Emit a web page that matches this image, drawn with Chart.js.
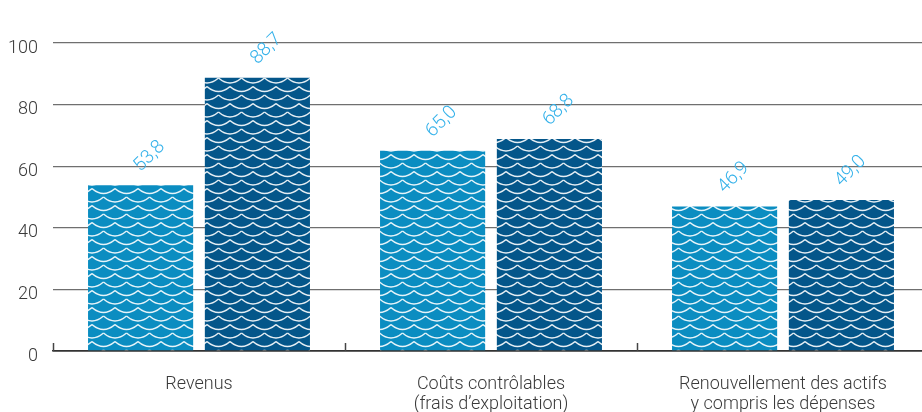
<!DOCTYPE html>
<html lang="fr">
<head>
<meta charset="utf-8">
<script src="https://cdn.jsdelivr.net/npm/chart.js@4/dist/chart.umd.min.js"></script>
<style>
  html, body { margin: 0; padding: 0; background: #fff; overflow: hidden; }
  #wrap { position: relative; width: 929px; height: 440px; }
</style>
</head>
<body>
<div id="wrap"><canvas id="chart"></canvas></div>
<script>
// Data
const categories = [
  ["Revenus"],
  ["Coûts contrôlables", "(frais d’exploitation)"],
  ["Renouvellement des actifs", "y compris les dépenses", "en immobilisations"]
];
const seriesPrev = [53.8, 65.0, 46.9];
const seriesCurr = [88.7, 68.8, 49.0];
const yTicks = [0, 20, 40, 60, 80, 100];

const FONT = "Roboto, 'Liberation Sans', sans-serif";

// wave / scale pattern fill for the bars
function scallop(base) {
  const w = 23, h = 17;
  const c = document.createElement("canvas");
  c.width = w; c.height = h;
  const g = c.getContext("2d");
  g.fillStyle = base;
  g.fillRect(0, 0, w, h);
  g.strokeStyle = "rgba(255,255,255,0.9)";
  g.lineWidth = 1.4;
  [[0, 1.5], [w / 2, 10]].forEach(function ([ox, oy]) {
    for (let x = ox - w; x < w + 1; x += w) {
      g.beginPath();
      g.moveTo(x, oy);
      g.quadraticCurveTo(x + w / 2, oy + 10, x + w, oy);
      g.stroke();
    }
  });
  return g.createPattern(c, "repeat");
}

// small upward ticks between categories on the baseline
const categoryTicks = {
  id: "categoryTicks",
  afterDraw(chart) {
    const xs = chart.scales.x;
    const ctx = chart.ctx;
    const bottom = chart.chartArea.bottom;
    ctx.save();
    ctx.strokeStyle = "#444";
    ctx.lineWidth = 1.5;
    for (let i = 0; i <= categories.length; i++) {
      const px = Math.round(xs.getPixelForValue(i - 0.5)) + 0.5;
      ctx.beginPath();
      ctx.moveTo(px, bottom);
      ctx.lineTo(px, bottom - 8);
      ctx.stroke();
    }
    ctx.restore();
  }
};

// rotated value labels above the bars
const valueLabels = {
  id: "valueLabels",
  afterDatasetsDraw(chart) {
    const ctx = chart.ctx;
    ctx.save();
    ctx.font = "300 19px " + FONT;
    ctx.fillStyle = "#36b2ea";
    ctx.textAlign = "left";
    ctx.textBaseline = "alphabetic";
    chart.data.datasets.forEach(function (ds, di) {
      chart.getDatasetMeta(di).data.forEach(function (bar, i) {
        ctx.save();
        ctx.translate(bar.x, bar.y - 13);
        ctx.rotate(-Math.PI / 4);
        ctx.fillText(ds.data[i].toFixed(1).replace(".", ","), 0, 0);
        ctx.restore();
      });
    });
    ctx.restore();
  }
};

const ctx = document.getElementById("chart").getContext("2d");
const chart = new Chart(ctx, {
  type: "bar",
  data: {
    labels: categories,
    datasets: [
      {
        label: "Période précédente",
        data: seriesPrev,
        backgroundColor: scallop("#0b8dc1"),
        borderWidth: 0
      },
      {
        label: "Période actuelle",
        data: seriesCurr,
        backgroundColor: scallop("#04568a"),
        borderWidth: 0
      }
    ]
  },
  options: {
    responsive: true,
    maintainAspectRatio: false,
    animation: false,
    events: [],
    layout: { padding: { top: 43, right: 0, left: 0, bottom: 0 } },
    plugins: {
      legend: { display: false },
      tooltip: { enabled: false }
    },
    datasets: {
      bar: { categoryPercentage: 0.8, barPercentage: 0.9 }
    },
    scales: {
      x: {
        grid: { display: false },
        border: { display: true, color: "#333", width: 1.5 },
        ticks: {
          color: "#3a3a3a",
          font: { family: FONT, size: 18, weight: "300", lineHeight: 1.1 },
          padding: 16,
          maxRotation: 0,
          autoSkip: false
        },
        afterFit(scale) { scale.height = 89; }
      },
      y: {
        min: yTicks[0],
        max: yTicks[yTicks.length - 1],
        border: { display: false },
        grid: {
          drawTicks: false,
          color: (c) => (c.tick && c.tick.value === 0 ? "#333" : "#6f6f6f"),
          lineWidth: (c) => (c.tick && c.tick.value === 0 ? 1.5 : 1.2)
        },
        afterBuildTicks(scale) {
          scale.ticks = yTicks.map((v) => ({ value: v }));
        },
        ticks: {
          color: "#3a3a3a",
          font: { family: FONT, size: 18, weight: "300" },
          padding: 15,
          labelOffset: 5
        },
        afterFit(scale) { scale.width = 53; }
      }
    }
  },
  plugins: [categoryTicks, valueLabels]
});
</script>
</body>
</html>
